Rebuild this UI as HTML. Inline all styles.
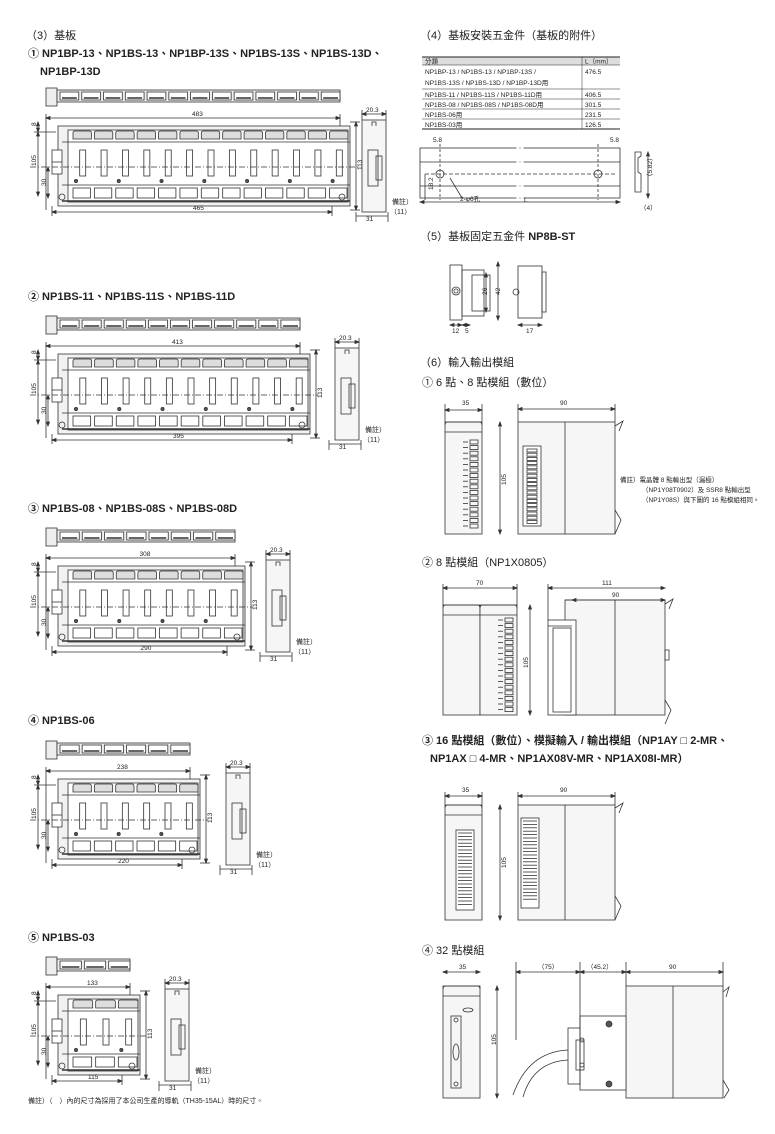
<!DOCTYPE html>
<html><head><meta charset="utf-8">
<style>
html,body{margin:0;padding:0;background:#fff;}
svg{display:block;font-family:"Liberation Sans","Noto Sans CJK TC",sans-serif;}
.t{font-size:11px;fill:#222;}
.b{font-size:11px;fill:#222;font-weight:bold;}
.s{font-size:6px;fill:#222;}
.d{font-size:6.5px;fill:#222;}
</style></head><body>
<svg id="sv" width="775" height="1134" viewBox="0 0 775 1134" xmlns="http://www.w3.org/2000/svg">
<g id="shapes" fill="none" stroke="#333" stroke-width="0.8"></g>
<text class="t" x="26" y="39">（3）基板</text>
<text class="b" x="28" y="57">① NP1BP-13、NP1BS-13、NP1BP-13S、NP1BS-13S、NP1BS-13D、</text>
<text class="b" x="40" y="75">NP1BP-13D</text>
<text class="b" x="28" y="300">② NP1BS-11、NP1BS-11S、NP1BS-11D</text>
<text class="b" x="28" y="512">③ NP1BS-08、NP1BS-08S、NP1BS-08D</text>
<text class="b" x="28" y="724">④ NP1BS-06</text>
<text class="b" x="28" y="941">⑤ NP1BS-03</text>
<text class="s" x="28" y="1103" style="font-size:7px">備註）（　）內的尺寸為採用了本公司生產的導軌（TH35-15AL）時的尺寸。</text>
<text class="t" x="420" y="39">（4）基板安裝五金件（基板的附件）</text>
<text class="t" x="420" y="240">（5）基板固定五金件 <tspan font-weight="bold">NP8B-ST</tspan></text>
<text class="t" x="420" y="366">（6）輸入輸出模組</text>
<text class="t" x="422" y="386">① 6 點、8 點模組（數位）</text>
<text class="t" x="422" y="566">② 8 點模組（NP1X0805）</text>
<text class="b" x="422" y="744">③ 16 點模組（數位）、模擬輸入 / 輸出模組（NP1AY □ 2-MR、</text>
<text class="b" x="430" y="762">NP1AX □ 4-MR、NP1AX08V-MR、NP1AX08I-MR）</text>
<text class="t" x="422" y="954">④ 32 點模組</text>
<g font-size="6.5" fill="#222">
<rect x="422" y="57" width="198" height="8" fill="#ddd"/>
<line x1="422" y1="57" x2="620" y2="57" stroke="#222" stroke-width="1"/>
<line x1="422" y1="65" x2="620" y2="65" stroke="#222" stroke-width="0.5"/>
<line x1="422" y1="89" x2="620" y2="89" stroke="#222" stroke-width="0.5"/>
<line x1="422" y1="99" x2="620" y2="99" stroke="#222" stroke-width="0.5"/>
<line x1="422" y1="109" x2="620" y2="109" stroke="#222" stroke-width="0.5"/>
<line x1="422" y1="119" x2="620" y2="119" stroke="#222" stroke-width="0.5"/>
<line x1="422" y1="129" x2="620" y2="129" stroke="#222" stroke-width="1"/>
<line x1="582" y1="57" x2="582" y2="129" stroke="#222" stroke-width="0.5"/>
<text x="425" y="63.5">分類</text><text x="585" y="63.5">L（mm）</text>
<text x="425" y="74">NP1BP-13 / NP1BS-13 / NP1BP-13S /</text><text x="585" y="74">476.5</text>
<text x="425" y="85">NP1BS-13S / NP1BS-13D / NP1BP-13D用</text>
<text x="425" y="97">NP1BS-11 / NP1BS-11S / NP1BS-11D用</text><text x="585" y="97">406.5</text>
<text x="425" y="107">NP1BS-08 / NP1BS-08S / NP1BS-08D用</text><text x="585" y="107">301.5</text>
<text x="425" y="117">NP1BS-06用</text><text x="585" y="117">231.5</text>
<text x="425" y="127">NP1BS-03用</text><text x="585" y="127">126.5</text>
</g>
<g class="d">
<text class="d" x="433" y="142">5.8</text><text class="d" x="610" y="142">5.8</text>
<text class="d" x="460" y="201">2-φ6孔</text><text class="d" x="524" y="202">L</text>
<text class="d" x="640" y="210">（4）</text>
<text class="d" transform="translate(433,190) rotate(-90)">18.2</text>
<text class="d" transform="translate(652,180) rotate(-90)">（5.82）</text>
<text class="d" x="452" y="333">12</text><text class="d" x="465" y="333">5</text><text class="d" x="526" y="333">17</text>
<text class="d" transform="translate(487,295) rotate(-90)">26</text>
<text class="d" transform="translate(500,295) rotate(-90)">42</text>
<text class="d" x="462" y="405">35</text><text class="d" x="560" y="405">90</text>
<text class="d" transform="translate(506,485) rotate(-90)">105</text>
<text class="d" x="476" y="585">70</text><text class="d" x="602" y="585">111</text><text class="d" x="612" y="597">90</text>
<text class="d" transform="translate(528,668) rotate(-90)">105</text>
<text class="d" x="462" y="792">35</text><text class="d" x="560" y="792">90</text>
<text class="d" transform="translate(506,868) rotate(-90)">105</text>
<text class="d" x="459" y="969">35</text><text class="d" x="538" y="969">（75）</text><text class="d" x="587" y="969">（45.2）</text><text class="d" x="669" y="969">90</text>
<text class="d" transform="translate(496,1045) rotate(-90)">105</text>
<text class="d" x="620" y="482">備註）電晶體 8 點輸出型（漏極）</text>
<text class="d" x="642" y="492">（NP1Y08T0902）及 SSR8 點輸出型</text>
<text class="d" x="642" y="502">（NP1Y08S）與下圖的 16 點模組相同。</text>
</g>
<g id="txt2"></g>
</svg>
<script>
var S='',T='';
function L(a,b,c,d,ex){S+='<line x1="'+a+'" y1="'+b+'" x2="'+c+'" y2="'+d+'" '+(ex||'')+'/>';}
function R(x,y,w,h,ex){S+='<rect x="'+x+'" y="'+y+'" width="'+w+'" height="'+h+'" '+(ex||'')+'/>';}
function C(x,y,r,ex){S+='<circle cx="'+x+'" cy="'+y+'" r="'+r+'" '+(ex||'')+'/>';}
function TX(x,y,s,rot){T+=rot?'<text class="d" transform="translate('+x+','+y+') rotate(-90)">'+s+'</text>':'<text class="d" x="'+x+'" y="'+y+'">'+s+'</text>';}
function hd(x1,x2,y){L(x1,y,x2,y);S+='<path d="M'+x1+' '+y+'l4 -1.5v3zM'+x2+' '+y+'l-4 -1.5v3z" fill="#333"/>';}
function vd(x,y1,y2){L(x,y1,x,y2);S+='<path d="M'+x+' '+y1+'l-1.5 4h3zM'+x+' '+y2+'l-1.5 -4h3z" fill="#333"/>';}
function base(y,n,x1,dTop,dBot,sx){
 var x0=58, st=(x1-x0-14)/n;
 R(46,y,11,18,'fill="#eee"'); R(57,y+2,x1-57-10,12,'fill="#eee"');
 for(var i=0;i<n;i++){var a=60+i*(x1-67)/n;R(a,y+4,(x1-67)/n-3,8,'fill="#fff"');L(a+2,y+10,a+(x1-67)/n-5,y+10,'stroke-width="1.5"');}
 var fy=y+38;
 L(46,fy-12,46,fy+84); L(x1-10,fy-12,x1-10,fy+8); hd(46,x1-10,fy-8); TX((46+x1)/2-6,fy-10,dTop);
 L(52,fy+80,52,fy+90); L(x1-18,fy+80,x1-18,fy+90); hd(52,x1-18,fy+86); TX((52+x1)/2-8,fy+84,dBot);
 R(x0,fy,x1-x0,80,'fill="#f2f2f2"'); R(x0+10,fy+4,x1-x0-12,72,'fill="#fff"');
 R(x0-6,fy+24,10,24,'fill="#fff"'); L(x0-6,fy+36,x0+4,fy+36);
 for(i=0;i<n;i++){var bx=x0+14+i*st;
  S+='<path d="M'+(bx+1)+' '+(fy+13)+'v-6q0-2 2-2h'+(st-7)+'q2 0 2 2v6z" fill="#ddd"/>';
  R(bx+st/2-3,fy+24,6,26);
  R(bx+1,fy+62,st-4,10);
  if(i%2==0)C(bx+4,fy+55,1.6,'fill="#555"');}
 L(x0+4,fy+16,x1,fy+16); L(x0+4,fy+59,x1,fy+59); L(x0+4,fy+75,x1,fy+75,'stroke-width="1.5"');
 L(30,fy+41,x1+8,fy+41,'stroke-dasharray="6 2 1 2"');
 C(x0+4,fy+71,3); C(x1-8,fy+71,3);
 L(34,fy+6,56,fy+6); vd(38,fy-4,fy+6); TX(36,fy,'8',1);
 vd(38,fy+6,fy+70); TX(36,fy+40,'105',1);
 vd(48,fy+41,fy+72); TX(46,fy+60,'30',1);
 L(x1,fy-4,x1+10,fy-4); L(x1,fy+84,x1+10,fy+84); vd(x1+6,fy-4,fy+84); TX(x1+12,fy+44,'113',1);
 var s0=sx;
 R(s0,fy-6,24,92,'fill="#f6f6f6"'); R(s0+6,fy+24,10,36); R(s0+14,fy+30,6,24);
 L(s0,fy-16,s0,fy-6); L(s0+24,fy-16,s0+24,fy-6); hd(s0,s0+24,fy-12); TX(s0+4,fy-14,'20.3');
 S+='<path d="M'+(s0+10)+' '+(fy)+'v-4h4v4"/>';
 L(s0-6,fy+90,s0+26,fy+90); L(s0-6,fy+86,s0-6,fy+96); L(s0+26,fy+86,s0+26,fy+96); TX(s0+4,fy+95,'31');
 T+='<text class="s" x="'+(s0+30)+'" y="'+(fy+78)+'" style="font-size:7px">備註）</text><text class="s" x="'+(s0+28)+'" y="'+(fy+88)+'" style="font-size:7px">（11）</text>';
}
base(88,13,350,'483','465',362);
base(316,11,310,'413','395',335);
base(528,8,245,'308','290',266);
base(741,6,200,'238','220',226);
base(957,3,140,'133','115',165);
R(420,148,200,50); L(420,162,620,162); L(420,186,620,186);
S+='<path d="M518 146v54M522 146v54" stroke="#fff" stroke-width="3"/>';
L(440,144,440,200,'stroke-dasharray="3 2"'); L(598,144,598,200,'stroke-dasharray="3 2"');
C(440,174,4); C(598,174,4); L(425,174,615,174,'stroke-dasharray="4 2"');
hd(420,620,202); L(425,174,425,200); L(450,178,462,198);
S+='<path d="M635 152h6v4l-3 2v14l3 2v18h-6z"/>'; vd(648,152,198);
R(450,265,12,55); R(462,270,22,46); R(472,275,18,36); C(456,291,4); C(456,291,2);
vd(486,273,312); vd(498,262,320); hd(450,462,325); hd(462,470,325);
R(518,266,24,52); R(542,272,4,40); C(516,292,3); hd(518,542,325);
function mod(x,y,w,h){R(x,y,w,h,'fill="#f6f6f6"'); L(x,y+10,x+w,y+10); S+='<path d="M'+x+' '+(y+3)+'q0-3 3-3h'+(w-6)+'q3 0 3 3"/>';}
// 6/8pt
mod(445,422,37,112); for(var k=0;k<16;k++){R(470,440+k*5.6,8,4);L(463,442+k*5.6,468,442+k*5.6);}
vd(500,422,534); hd(445,482,410); L(445,404,445,422); L(482,404,482,422);
R(518,422,97,112,'fill="#f6f6f6"'); L(565,422,565,534); R(523,446,18,80,'fill="#fff"'); for(k=0;k<18;k++)R(527,449+k*4.2,10,3);
S+='<path d="M615 426l8-5-4 10M615 510l6 10-6 14"/>'; hd(518,615,409); L(518,404,518,422); L(615,404,615,422);
// 8pt
mod(443,605,37,110); mod(480,605,37,110); for(k=0;k<17;k++){R(505,618+k*5.6,8,4);L(498,620+k*5.6,503,620+k*5.6);}
vd(530,605,715); hd(443,517,588); L(443,584,443,605); L(517,584,517,605);
R(565,600,100,115,'fill="#f6f6f6"'); L(615,600,615,715);
R(548,620,28,95,'fill="#fff"'); R(553,628,18,84); L(548,626,572,626);
L(565,600,573,600);
S+='<path d="M665 604l8-5-4 10M665 700l6 10-6 14"/>'; R(665,650,4,10);
hd(548,665,588); hd(572,665,600); L(548,584,548,620);
// 16pt
mod(445,805,37,115); R(456,830,18,80,'fill="#fff"'); for(k=0;k<22;k++)L(458,833+k*3.4,472,833+k*3.4);
vd(500,805,920); hd(445,482,796); L(445,792,445,805); L(482,792,482,805);
R(518,805,97,115,'fill="#f6f6f6"'); L(565,805,565,920); R(521,818,18,90,'fill="#fff"'); for(k=0;k<24;k++)L(523,821+k*3.4,537,821+k*3.4);
S+='<path d="M615 808l8-5-4 10M615 896l6 10-6 14"/>'; hd(518,615,796); L(518,792,518,805); L(615,792,615,805);
// 32pt
mod(443,986,37,112); R(451,1016,10,72); S+='<ellipse cx="456" cy="1052" rx="3" ry="8"/>'; S+='<ellipse cx="468" cy="1010" rx="5" ry="2"/>';
C(456,1020,2); C(456,1084,2); vd(497,986,1098); hd(443,480,972);
R(626,986,97,112,'fill="#f6f6f6"'); L(673,986,673,1098); S+='<path d="M723 992l6-5-3 10M723 1080l6 10-5 8"/>';
R(580,1016,46,74,'fill="#fff"'); R(568,1028,12,56); C(609,1024,3,'fill="#555"'); C(609,1084,3,'fill="#555"');
R(576,1040,8,30); C(582,1040,2); C(582,1065,2);
S+='<path d="M568 1050q-40 2-55 45M568 1060q-35 2-45 37" stroke-width="0.8"/>';
L(516,962,516,1040); L(580,962,580,1030); L(626,962,626,986); L(723,962,723,986);
hd(516,580,972); hd(580,626,972); hd(626,723,972);
document.getElementById('shapes').innerHTML=S;
document.getElementById('txt2').innerHTML=T;
</script>
</body></html>
